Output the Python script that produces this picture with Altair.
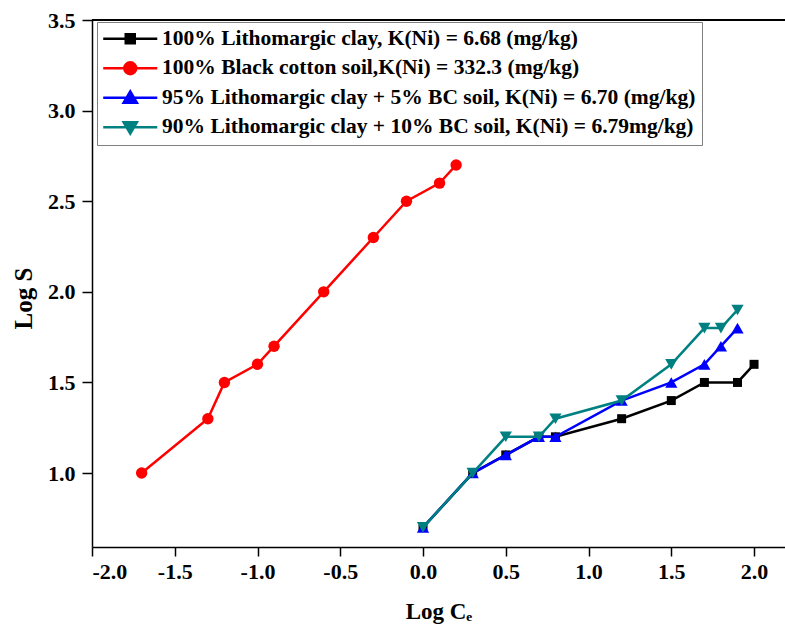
import json
import altair as alt
import pandas as pd

# ---------------- data ----------------
series = [
    "100% Lithomargic clay, K(Ni) = 6.68 (mg/kg)",
    "100% Black cotton soil,K(Ni) = 332.3 (mg/kg)",
    "95% Lithomargic clay + 5% BC soil, K(Ni) = 6.70 (mg/kg)",
    "90% Lithomargic clay + 10% BC soil, K(Ni) = 6.79mg/kg)",
]
colors = ["#000000", "#ff0000", "#0000ff", "#008080"]
shapes = ["square", "circle", "triangle-up", "triangle-down"]
sizes = [81, 130, 150, 150]

lc_x = [0.0, 0.3, 0.5, 0.7, 0.8, 1.2, 1.5, 1.7, 1.9, 2.0]
lc_y = [0.7, 1.0, 1.1, 1.2, 1.2, 1.3, 1.4, 1.5, 1.5, 1.6]
bc_x = [-1.7, -1.3, -1.2, -1.0, -0.9, -0.6, -0.3, -0.1, 0.1, 0.2]
bc_y = [1.0, 1.3, 1.5, 1.6, 1.7, 2.0, 2.3, 2.5, 2.6, 2.7]
m95_x = [0.0, 0.3, 0.5, 0.7, 0.8, 1.2, 1.5, 1.7, 1.8, 1.9]
m95_y = [0.7, 1.0, 1.1, 1.2, 1.2, 1.4, 1.5, 1.6, 1.7, 1.8]
m90_x = [0.0, 0.3, 0.5, 0.7, 0.8, 1.2, 1.5, 1.7, 1.8, 1.9]
m90_y = [0.7, 1.0, 1.2, 1.2, 1.3, 1.4, 1.6, 1.8, 1.8, 1.9]

x_ticks = [-2.0, -1.5, -1.0, -0.5, 0.0, 0.5, 1.0, 1.5, 2.0]
y_ticks = [1.0, 1.5, 2.0, 2.5, 3.0, 3.5]

rows = []
for name, xs, ys in zip(series, [lc_x, bc_x, m95_x, m90_x], [lc_y, bc_y, m95_y, m90_y]):
    for i, (xv, yv) in enumerate(zip(xs, ys)):
        rows.append({"s": name, "i": i, "x": xv, "y": yv})
df = pd.DataFrame(rows)

# ---------------- styling ----------------
FONT = "Liberation Serif"
W, H = 693, 527
X_DOMAIN = [-2.0, 2.187]
Y_DOMAIN = [0.592, 3.5]

label_expr = "(datum.value < 0 ? '-' : '') + format(abs(datum.value), '.1f')"

x_enc = alt.X(
    "x:Q",
    scale=alt.Scale(domain=X_DOMAIN, nice=False, zero=False),
    axis=alt.Axis(
        values=x_ticks, labelExpr=label_expr, title="Log Cₑ",
        titleY=71, titleBaseline="alphabetic", tickSize=9, labelPadding=5,
    ),
)
y_enc = alt.Y(
    "y:Q",
    scale=alt.Scale(domain=Y_DOMAIN, nice=False, zero=False),
    axis=alt.Axis(
        values=y_ticks, labelExpr=label_expr, title="Log S",
        titleX=-61, titleY=278, titleBaseline="alphabetic", titleFontSize=25,
        tickSize=10, labelPadding=7,
    ),
)

# legend symbols: a line segment (about 54 px) with the marker in the middle
SYM = 289  # sqrt = 17 px -> path unit = 8.5 px
leg_paths = [
    "M-3.18,0H3.18M-0.53,-0.53H0.53V0.53H-0.53Z",
    "M-3.18,0H3.18M0.7,0A0.7,0.7 0 1,1 -0.7,0A0.7,0.7 0 1,1 0.7,0Z",
    "M-3.18,0H3.18M0,-0.74L0.78,0.6L-0.78,0.6Z",
    "M-3.18,0H3.18M0,0.74L0.78,-0.6L-0.78,-0.6Z",
]
idx = f"indexof({json.dumps(series)}, datum.value)"
legend = alt.Legend(
    title=None, orient="none", legendX=5, legendY=2,
    padding=6, strokeColor="#7f7f7f", fillColor="white",
    labelFont=FONT, labelFontSize=21.5, labelFontWeight="bold", labelColor="black",
    labelLimit=0, labelOffset=21, rowPadding=6.5,
    symbolSize=SYM, symbolStrokeWidth=2.5, symbolOffset=16.5,
    symbolType={"expr": f"{json.dumps(leg_paths)}[{idx}]"},
    symbolFillColor={"expr": f"{json.dumps(colors)}[{idx}]"},
    symbolOpacity=1,
)

color_scale = alt.Scale(domain=series, range=colors)

base = alt.Chart(df)
layers = []
for name, col, shp, size in zip(series, colors, shapes, sizes):
    sub = base.transform_filter(alt.FieldEqualPredicate(field="s", equal=name))
    layers.append(
        sub.mark_line(strokeWidth=2.5).encode(
            x=x_enc, y=y_enc, order="i:Q",
            color=alt.Color("s:N", scale=color_scale, legend=legend),
        )
    )
    layers.append(
        sub.mark_point(filled=True, opacity=1, size=size, shape=shp, color=col).encode(
            x=x_enc, y=y_enc,
        )
    )

top_frame = alt.Chart(df).mark_rule(color="black", strokeWidth=2).encode(
    y=alt.datum(3.5), x=alt.value(0), x2=alt.value(W)
)

chart = (
    alt.layer(*layers, top_frame)
    .properties(
        width=W, height=H,
        autosize=alt.AutoSizeParams(type="none"),
        padding={"left": 92, "top": 20, "right": 0, "bottom": 88},
        background="white",
    )
    .configure_view(stroke=None)
    .configure_axis(
        grid=False, domainColor="black", domainWidth=1.5, tickColor="black", tickWidth=1.5,
        labelFont=FONT, labelFontSize=22, labelFontWeight="bold", labelColor="black",
        titleFont=FONT, titleFontSize=23, titleFontWeight="bold", titleColor="black",
    )
)

chart.save("out.html", embed_options={"renderer": "svg", "actions": False})
